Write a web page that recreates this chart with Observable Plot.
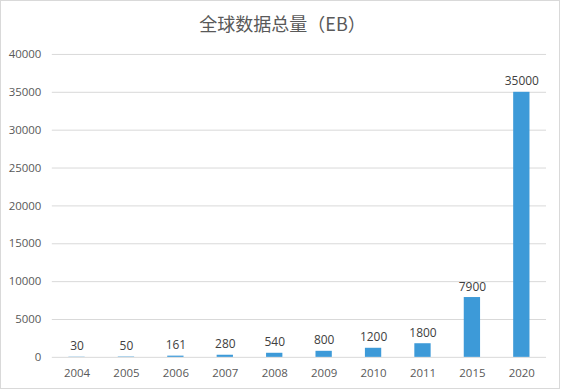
<!DOCTYPE html>
<html><head><meta charset="utf-8">
<script src="https://cdn.jsdelivr.net/npm/d3@7"></script>
<script src="https://cdn.jsdelivr.net/npm/@observablehq/plot@0.6"></script>
<style>
html,body{margin:0;padding:0;background:#fff;}
#frame{position:absolute;left:0;top:0;width:558px;height:387px;border:1px solid #d9d9d9;background:#fff;overflow:hidden;}
#title{position:absolute;left:0;top:10px;width:563px;text-align:center;font-family:"Noto Sans CJK SC","Open Sans",sans-serif;font-size:18px;color:#595959;line-height:24px;}
#chart{position:absolute;left:-1px;top:39px;}
</style></head>
<body>
<div id="frame"><div id="title">全球数据总量（EB）</div><div id="chart"></div></div>
<script>
const years = ["2004","2005","2006","2007","2008","2009","2010","2011","2015","2020"];
const values = [30, 50, 161, 280, 540, 800, 1200, 1800, 7900, 35000];
const yTicks = [0,5000,10000,15000,20000,25000,30000,35000,40000];
const data = years.map((y,i)=>({year:y, value:values[i]}));
const chart = Plot.plot({
  width: 561, height: 349,
  marginLeft: 52, marginRight: 13, marginTop: 14, marginBottom: 31,
  style: {fontFamily: "'Open Sans', sans-serif", fontSize: "11px", color: "#595959", background: "transparent"},
  x: {domain: years, paddingInner: 0.67, paddingOuter: 0.335, round: false, label: null},
  y: {domain: [0, 40000], ticks: yTicks, label: null},
  marks: [
    Plot.gridY(yTicks, {stroke: "#d9d9d9", strokeOpacity: 1}),
    Plot.axisY(yTicks, {tickSize: 0, tickPadding: 11, fontSize: 11.5, fill: "#595959", tickFormat: d => String(d)}),
    Plot.axisX({tickSize: 0, tickPadding: 12, fontSize: 11.5, fill: "#595959"}),
    Plot.barY(data, {x: "year", y: "value", fill: "#3d9ad8"}),
    Plot.text(data, {x: "year", y: "value", text: d => String(d.value), dy: -7, lineAnchor: "bottom", fontSize: 12, fill: "#404040"})
  ]
});
document.getElementById("chart").appendChild(chart);
</script>
</body></html>
